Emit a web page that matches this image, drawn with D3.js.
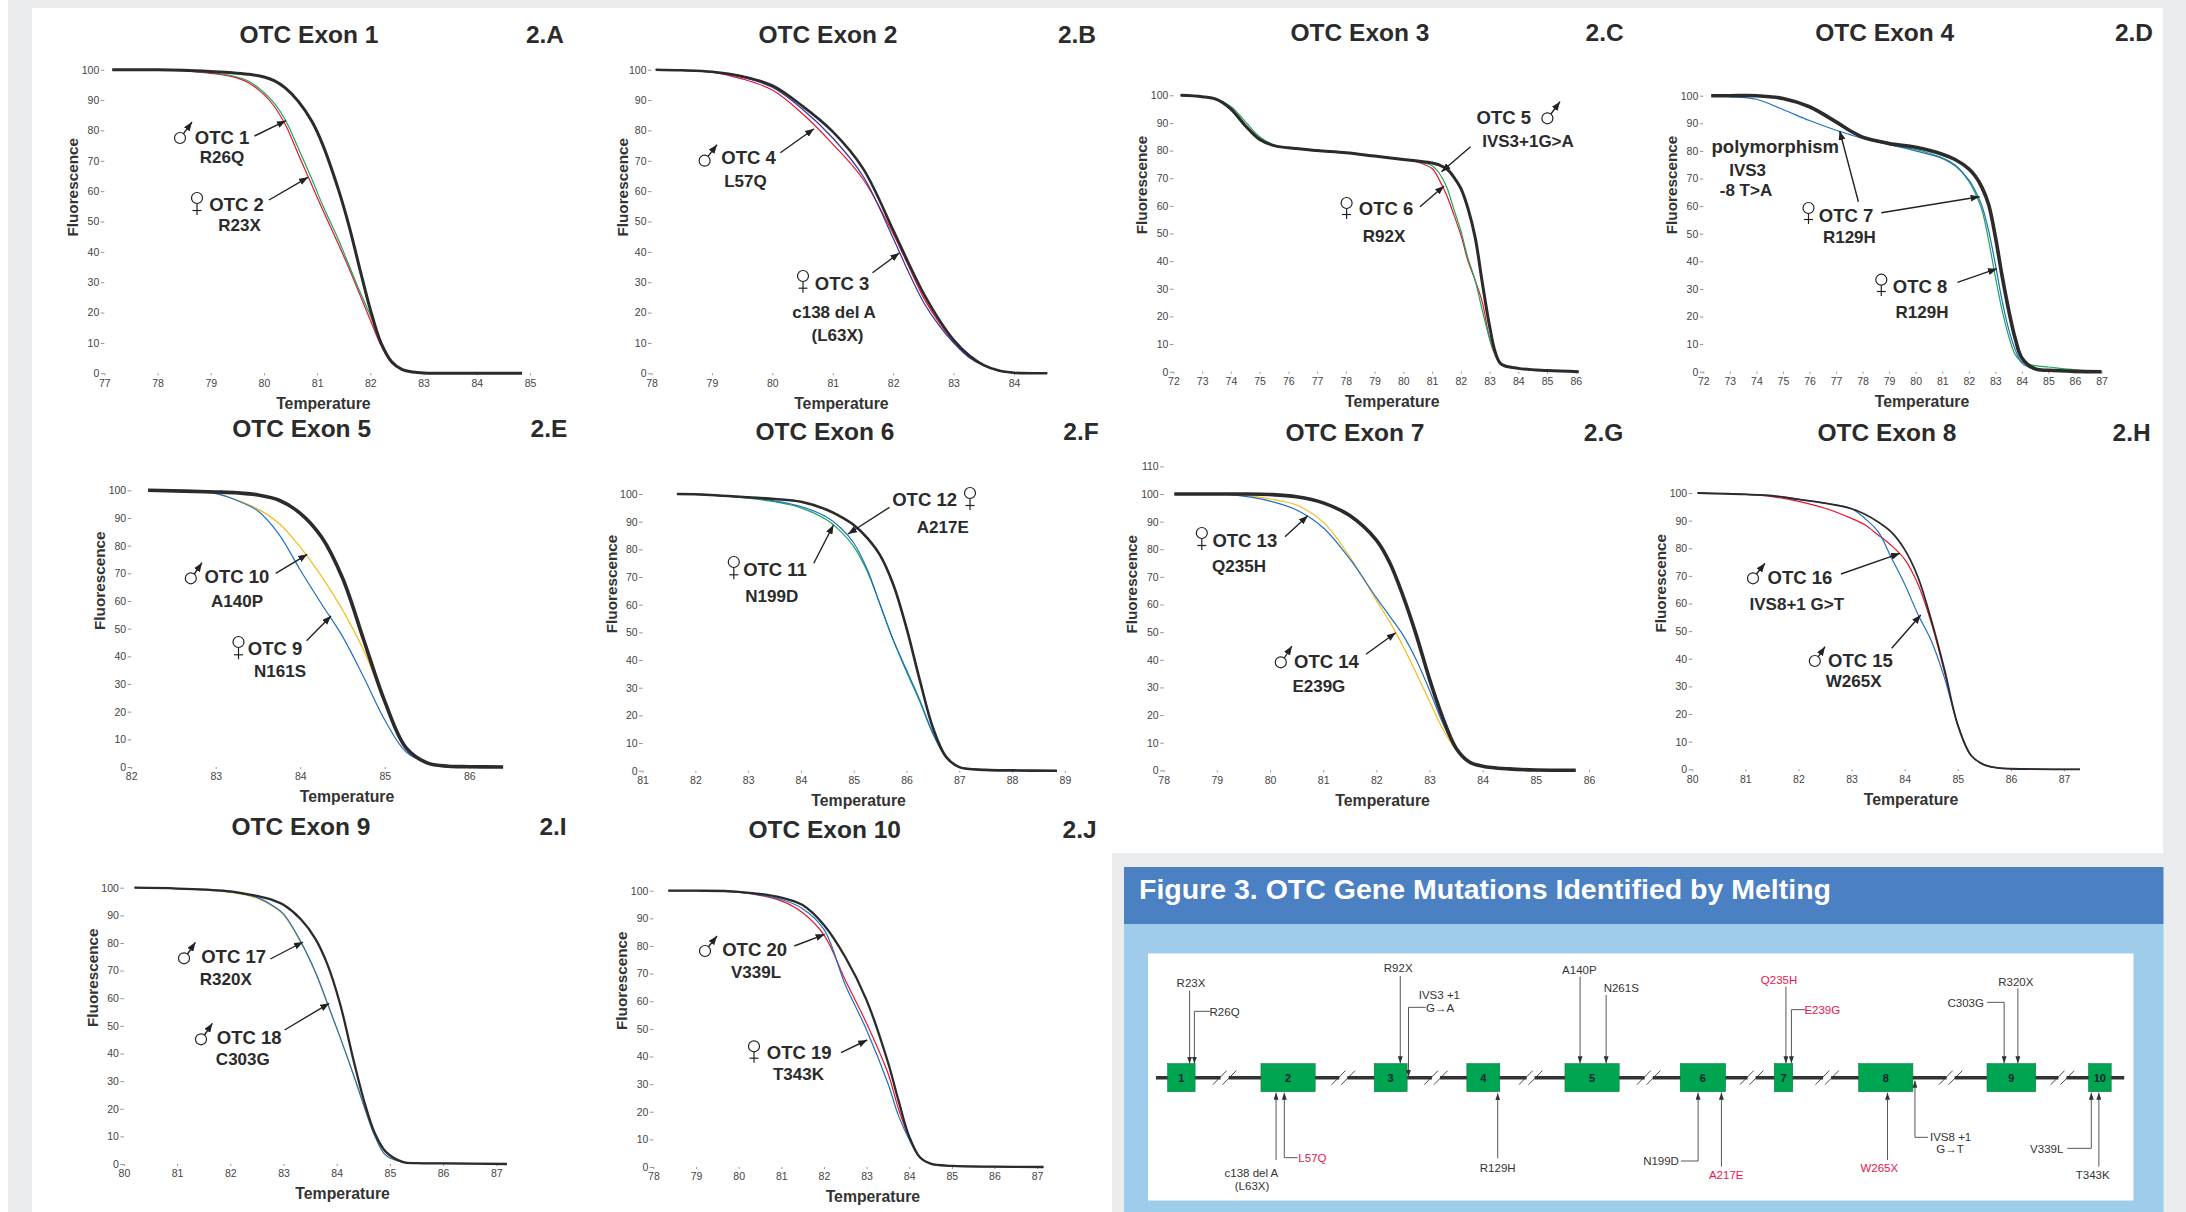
<!DOCTYPE html>
<html>
<head>
<meta charset="utf-8">
<script src="https://cdnjs.cloudflare.com/ajax/libs/d3/7.8.5/d3.min.js"></script>
<style>
  html, body { margin: 0; padding: 0; background: #fff; }
  svg { display: block; }
  text { font-family: "Liberation Sans", Arial, sans-serif; }
</style>
</head>
<body>
<svg id="chart" width="2186" height="1212"></svg>
<script>
/*
 * Melting curve values
 */
var tempA = [77.15, 78, 78.5, 79, 79.4, 79.7, 80, 80.2, 80.4, 80.65, 80.9, 81.1, 81.4, 81.6, 81.8, 82, 82.2, 82.4, 82.6, 82.8, 83, 84, 84.85];
var controlA = [100, 100, 99.8, 99.4, 99, 98.5, 97.6, 96.3, 94, 89.5, 83, 75.5, 60.5, 48.5, 34.5, 21, 10, 3.8, 1.2, 0.4, 0.1, 0, 0];
var greenA = [100, 100, 99.7, 99, 98, 96.3, 92.5, 88.8, 83.5, 74, 64, 55.5, 44, 35.5, 27, 19, 9.8, 3.6, 1.1, 0.4, 0.1, 0, 0];
var redA = [100, 100, 99.6, 98.8, 97.7, 95.8, 91.8, 87.8, 82, 72, 62, 54, 42.5, 34.5, 26, 17.5, 9.2, 3.4, 1.1, 0.4, 0.1, 0, 0];

var tempB = [78.07, 78.5, 79, 79.5, 80, 80.5, 81, 81.5, 82, 82.25, 82.5, 82.75, 83, 83.25, 83.5, 83.75, 84, 84.55];
var controlB = [100, 99.8, 99.3, 97.8, 94.8, 88, 79.6, 67.5, 47.2, 36.5, 26.4, 18, 11, 6, 2.7, 0.9, 0.2, 0];
var redB = [100, 99.8, 99.2, 97, 93.3, 85.5, 75.5, 64, 46, 35.5, 25, 17, 10.5, 5.5, 2.5, 0.8, 0.2, 0];
var navyB = [100, 99.8, 99.3, 97.5, 94.2, 87, 77.5, 65, 44.5, 33.5, 23.5, 16, 10, 5.3, 2.5, 0.8, 0.2, 0];

var tempC = [72.25, 73, 73.5, 74, 74.5, 75, 75.5, 76, 77, 78, 79, 80, 80.5, 81, 81.25, 81.5, 81.75, 82, 82.25, 82.5, 82.75, 83, 83.2, 83.4, 84, 85, 86.1];
var controlC = [100, 99.5, 98.5, 95, 89, 84, 81.8, 81, 80, 79.2, 78, 76.8, 76.2, 75.5, 74.8, 73.5, 70.5, 66.3, 59, 48.5, 32, 16.5, 7, 2.8, 1.2, 0.4, 0];
var greenC = [100, 99.5, 98.7, 96, 90.5, 85, 82, 81, 80, 79.2, 78, 76.8, 76, 74.5, 71.8, 67, 59, 51, 41, 33, 22, 12, 6, 2.8, 1.2, 0.4, 0];
var redC = [100, 99.5, 98.5, 95.5, 89.5, 84.5, 81.8, 81, 80, 79.3, 78.1, 76.8, 75.8, 73.5, 69.4, 64, 57, 49.5, 40, 33, 25, 12, 6, 2.8, 1.2, 0.4, 0];

var tempD = [72.3, 73, 74, 75, 76, 77, 77.5, 78, 79, 80, 81, 81.5, 82, 82.25, 82.5, 82.75, 83, 83.25, 83.5, 83.75, 84, 84.5, 85, 86, 87];
var controlD = [100, 100, 100, 99, 96, 90.5, 87.5, 85, 82.7, 81.3, 78.8, 76.8, 73.5, 70.8, 66.7, 60.5, 49, 35, 22.5, 12, 5, 1, 0.5, 0.1, 0];
var greenD = [100, 100, 100, 99, 96, 90.5, 87.5, 85, 82.3, 80.5, 77.5, 74.8, 69, 64.5, 58.5, 47.5, 34.5, 22.5, 13, 6.2, 3.6, 2.2, 1.7, 0.7, 0];
var blueD = [100, 99.7, 98.7, 95, 91, 87.5, 86, 84.5, 82.3, 80, 77.3, 74.5, 69.5, 65.5, 60, 51, 39, 26, 15.5, 8, 3.2, 0.8, 0.4, 0.1, 0];

var tempE = [82.2, 83, 83.25, 83.5, 83.75, 84, 84.25, 84.5, 84.75, 85, 85.25, 85.5, 85.75, 86, 86.4];
var controlE = [100, 99.4, 99.1, 98.3, 96.4, 91.7, 83.2, 68.3, 46, 23.7, 7, 1.5, 0.3, 0.1, 0];
var yellowE = [100, 99, 96.5, 93.2, 88, 79.5, 69, 56.8, 42.2, 23.7, 7, 1.5, 0.3, 0.1, 0];
var blueE = [100, 98.8, 96.3, 92.5, 84, 71.2, 59, 47.2, 32.5, 17, 5.5, 1.5, 0.3, 0.1, 0];

var tempF = [81.65, 82, 83, 83.5, 84, 84.5, 84.75, 85, 85.25, 85.5, 85.75, 86, 86.25, 86.5, 86.75, 87, 87.5, 88, 88.85];
var controlF = [100, 99.9, 98.8, 98.2, 97.2, 94.2, 91.8, 88.8, 84.2, 77.8, 67.2, 51.5, 32.8, 15.5, 5, 1.3, 0.3, 0.1, 0];
var greenF = [100, 99.9, 98.5, 97.2, 95, 90.5, 86.5, 81, 72.3, 60, 47, 35.8, 25, 13.3, 4.8, 1.3, 0.3, 0.1, 0];
var blueF = [100, 99.9, 98.7, 97.5, 95.5, 91.5, 87.8, 82.3, 73, 60, 47.2, 36.4, 25.6, 13.5, 4.8, 1.3, 0.3, 0.1, 0];

var tempG = [78.2, 79, 79.5, 80, 80.5, 81, 81.5, 82, 82.25, 82.5, 82.75, 83, 83.25, 83.5, 83.75, 84, 84.5, 85, 85.75];
var controlG = [100, 100, 100, 99.8, 99, 96.8, 92.2, 83.3, 75.2, 63.2, 49, 33, 19, 8, 3, 1.5, 0.5, 0.1, 0];
var yellowG = [100, 100, 99.6, 98.2, 96, 89.8, 77.3, 61.5, 53.8, 45, 35.2, 25, 15, 7.5, 3, 1.5, 0.5, 0.1, 0];
var blueG = [100, 100, 99.2, 97.4, 94.2, 87.8, 76.5, 62.5, 55.8, 49, 40, 29, 17, 7.8, 3, 1.5, 0.5, 0.1, 0];

var tempH = [80.1, 81, 81.5, 82, 82.5, 83, 83.25, 83.5, 83.75, 84, 84.25, 84.5, 84.75, 85, 85.25, 85.5, 85.75, 86, 87.3];
var controlH = [100, 99.5, 99, 97.7, 96.3, 94.3, 92.3, 89.5, 85.8, 79.5, 69.5, 54, 36, 16, 5, 1.6, 0.5, 0.2, 0];
var redH = [100, 99.5, 98.7, 97, 94.5, 90.8, 88.5, 84.8, 81, 76, 67, 53, 35, 16, 5, 1.6, 0.5, 0.2, 0];
var blueH = [100, 99.5, 99, 97.8, 96.3, 94.3, 90.8, 86, 76.5, 67, 56, 46.5, 33, 16, 5, 1.6, 0.5, 0.2, 0];

var tempI = [80.2, 81, 82, 82.5, 82.8, 83, 83.33, 83.6, 83.82, 84.06, 84.33, 84.53, 84.72, 84.92, 85.25, 85.5, 86, 87.2];
var controlI = [100, 99.7, 98.7, 97, 95.5, 93.8, 88.5, 81.5, 72.5, 58.2, 36.5, 21.8, 11, 4.5, 0.7, 0.3, 0.2, 0];
var yellowI = [100, 99.7, 98.3, 96.2, 93.2, 90.2, 80, 69.2, 58.2, 46, 31.5, 20, 10, 3.2, 0.6, 0.3, 0.2, 0];
var blueI = [100, 99.7, 98.5, 96.5, 93.5, 90.5, 80.3, 69.5, 58.5, 46.1, 31.5, 20, 10, 3.2, 0.6, 0.3, 0.2, 0];

var tempJ = [78.35, 79, 80, 81, 81.5, 82, 82.5, 83, 83.5, 83.75, 84, 84.25, 84.5, 85, 86, 87.15];
var controlJ = [100, 100, 99.6, 97.5, 94.8, 87.6, 76, 60.4, 38, 24, 11, 3.5, 1.2, 0.4, 0.1, 0];
var redJ = [100, 100, 99.5, 96.3, 92, 84, 67.7, 52, 34, 21, 10.5, 3.5, 1.2, 0.4, 0.1, 0];
var blueJ = [100, 100, 99.5, 96.8, 93.5, 86, 66, 49.6, 30.3, 18.5, 10, 3.5, 1.2, 0.4, 0.1, 0];

var RED = "#e8152f", GREEN = "#1da658", BLUE = "#1f6fc4", YELLOW = "#f6bb1c", NAVY = "#3232a5";

/*
 * Panels: box on the page, tick range, curves
 */
var panels = [
  { title: "OTC Exon 1", tag: "2.A", tx: 309, ty: 43.3, lx: 545, ly: 43,
    t: [77, 85], px: [104.3, 530], py: [373.3, 69.7], xl: [323.4, 409], yl: [77.7, 187.3], w: 3,
    temp: tempA, control: controlA, curves: [[redA, RED], [greenA, GREEN]] },
  { title: "OTC Exon 2", tag: "2.B", tx: 828, ty: 43, lx: 1077, ly: 43,
    t: [78, 84], px: [651.5, 1014], py: [373.3, 69.7], xl: [841.4, 409], yl: [627.9, 187.3], w: 2.6,
    temp: tempB, control: controlB, curves: [[redB, RED], [navyB, NAVY]] },
  { title: "OTC Exon 3", tag: "2.C", tx: 1360, ty: 41.3, lx: 1604.6, ly: 41.3,
    t: [72, 86], px: [1173.4, 1575.8], py: [371.7, 95.3], xl: [1392.3, 406.7], yl: [1147, 185], w: 3,
    temp: tempC, control: controlC, curves: [[redC, RED], [greenC, GREEN]] },
  { title: "OTC Exon 4", tag: "2.D", tx: 1884.7, ty: 41.3, lx: 2134, ly: 41.3,
    t: [72, 87], px: [1703.3, 2101.5], py: [371.7, 95.7], xl: [1922, 407], yl: [1677, 185], w: 3.6,
    temp: tempD, control: controlD, curves: [[greenD, GREEN], [blueD, BLUE]] },
  { title: "OTC Exon 5", tag: "2.E", tx: 301.6, ty: 437.3, lx: 549, ly: 437.3,
    t: [82, 86], px: [131.2, 469.3], py: [767, 490.3], xl: [347, 802.3], yl: [105, 580.7], w: 3.6,
    temp: tempE, control: controlE, curves: [[yellowE, YELLOW], [blueE, BLUE]] },
  { title: "OTC Exon 6", tag: "2.F", tx: 825, ty: 440, lx: 1081, ly: 440,
    t: [81, 89], px: [642.6, 1064.9], py: [770.7, 494], xl: [858.6, 805.7], yl: [617.3, 584], w: 2.6,
    temp: tempF, control: controlF, curves: [[greenF, GREEN], [blueF, BLUE]] },
  { title: "OTC Exon 7", tag: "2.G", tx: 1355, ty: 440.7, lx: 1603.5, ly: 440.7, top: 110,
    t: [78, 86], px: [1163.7, 1589], py: [770.3, 494], xl: [1382.6, 806], yl: [1137.4, 584.3], w: 3.6,
    temp: tempG, control: controlG, curves: [[yellowG, YELLOW], [blueG, BLUE]] },
  { title: "OTC Exon 8", tag: "2.H", tx: 1887, ty: 440.7, lx: 2131.6, ly: 440.7,
    t: [80, 87], px: [1692.2, 2064.1], py: [769.3, 493], xl: [1911, 805], yl: [1665.9, 583.3], w: 1.8,
    temp: tempH, control: controlH, curves: [[redH, RED], [blueH, BLUE]] },
  { title: "OTC Exon 9", tag: "2.I", tx: 301, ty: 835, lx: 553, ly: 835,
    t: [80, 87], px: [123.9, 496.3], py: [1164, 887.7], xl: [342.6, 1199.3], yl: [97.7, 977.7], w: 2.3,
    temp: tempI, control: controlI, curves: [[yellowI, YELLOW], [blueI, BLUE]] },
  { title: "OTC Exon 10", tag: "2.J", tx: 824.7, ty: 838.3, lx: 1079.6, ly: 838.3,
    t: [78, 87], px: [653.4, 1037.1], py: [1167, 890.7], xl: [872.9, 1202.3], yl: [627.2, 980.7], w: 2.3,
    temp: tempJ, control: controlJ, curves: [[redJ, RED], [blueJ, BLUE]] }
];

// [text, center x, baseline y]
var otcLabels = [
  ["OTC 1", 222, 144], ["R26Q", 222, 163.3], ["OTC 2", 236.5, 211], ["R23X", 239.5, 230.7],
  ["OTC 4", 748.6, 164], ["L57Q", 745.4, 187.3], ["OTC 3", 842, 290], ["c138 del A", 834, 318.3], ["(L63X)", 837.5, 341],
  ["OTC 5", 1503.8, 124], ["IVS3+1G>A", 1528, 147], ["OTC 6", 1386, 215], ["R92X", 1384, 242],
  ["polymorphism", 1775.3, 153.3], ["IVS3", 1747.6, 176], ["-8 T>A", 1746, 195.7],
  ["OTC 7", 1846, 221.7], ["R129H", 1849.4, 243.3], ["OTC 8", 1920, 293.3], ["R129H", 1922, 318.3],
  ["OTC 10", 237, 583.3], ["A140P", 237, 606.7], ["OTC 9", 275, 655.3], ["N161S", 280, 677],
  ["OTC 12", 924.6, 506], ["A217E", 942.8, 533.3], ["OTC 11", 775, 575.7], ["N199D", 771.7, 601.7],
  ["OTC 13", 1244.8, 546.7], ["Q235H", 1239, 571.7], ["OTC 14", 1326.5, 668.3], ["E239G", 1318.9, 691.7],
  ["OTC 16", 1800, 583.7], ["IVS8+1 G>T", 1796.8, 610], ["OTC 15", 1860.5, 666.7], ["W265X", 1853.6, 686.7],
  ["OTC 17", 233.6, 963.3], ["R320X", 225.8, 985], ["OTC 18", 249.2, 1044.3], ["C303G", 242.8, 1065],
  ["OTC 20", 754.6, 956], ["V339L", 756, 978.3], ["OTC 19", 799.2, 1059], ["T343K", 798.5, 1080]
];

// [x1, y1, x2, y2], the head sits at x2, y2
var otcArrows = [
  [254.5, 136, 286, 120.7], [269, 200, 308, 177.3],
  [780.4, 152.7, 814, 128.7], [872.5, 272.7, 899.3, 253],
  [1470.5, 146.7, 1441.5, 171.7], [1420, 206.7, 1444, 186],
  [1858.4, 201.7, 1839.7, 131], [1881.3, 212.7, 1979.6, 196.7], [1957.5, 282.3, 1997, 268.7],
  [275.7, 573.3, 307.3, 554.3], [306.6, 640.7, 331, 616],
  [889.5, 507.3, 848, 534], [813.8, 563.3, 833.4, 525],
  [1285, 536.7, 1307.8, 515.7], [1366, 654.3, 1395.7, 632.7],
  [1841, 574, 1900, 553.3], [1891.7, 648.3, 1920.8, 615],
  [270.4, 959, 303, 942], [284.6, 1030, 329.2, 1003.3],
  [794.3, 946, 824.7, 934.3], [841, 1052.7, 867.2, 1040]
];

// [circle x, circle y, arrow tip x, arrow tip y]
var maleSigns = [
  [180, 138, 192, 122], [704.6, 160.7, 717, 144.7], [1547.4, 118.3, 1560, 101.7],
  [190.8, 578.3, 202, 562.7], [1280.8, 662.3, 1291.9, 646], [1753, 578.3, 1765, 563.3],
  [1814.8, 661, 1825, 646.7], [184, 958.3, 195.4, 942.3], [201, 1039.3, 212.4, 1023.3], [705, 951, 717, 936]
];

// [circle x, circle y, stem bottom y]
var femaleSigns = [
  [197, 200, 215], [803, 278, 292.7], [1346.6, 205, 219], [1808.5, 210, 224], [1881.3, 281.7, 296],
  [238.5, 644, 659.3], [970, 495, 510], [733.8, 564, 579.3], [1201.8, 535, 550], [754, 1048.3, 1062.7]
];

/*
 * Figure 3, gene map, in the units of the schematic
 */
var exonNames = ["1", "2", "3", "4", "5", "6", "7", "8", "9", "10"];
var exonStarts = [84, 220, 385, 520, 663, 831, 968, 1091, 1278, 1426];
var exonEnds = [124, 299, 433, 568, 742, 897, 995, 1170, 1349, 1459];
var breakMarks = [167, 340, 475, 613, 785, 935, 1045, 1225, 1388];

// [text, x, y, color]
var geneLabels = [
  ["R23X", 118, 410, 0], ["R26Q", 167, 498, 0], ["R92X", 420, 365, 0], ["IVS3 +1", 480, 447, 0], ["G\u2192A", 481, 485, 0],
  ["A140P", 684, 372, 0], ["N261S", 745, 426, 0], ["Q235H", 975, 402, 1], ["E239G", 1038, 492, 1], ["C303G", 1247, 470, 0],
  ["R320X", 1320, 407, 0], ["c138 del A", 206, 980, 0], ["(L63X)", 207, 1020, 0], ["L57Q", 295, 935, 1], ["R129H", 565, 967, 0],
  ["N199D", 803, 945, 0], ["A217E", 898, 988, 1], ["W265X", 1121, 967, 1], ["IVS8 +1", 1225, 872, 0], ["G\u2192T", 1224, 910, 0],
  ["V339L", 1365, 908, 0], ["T343K", 1432, 988, 0]
];

// polyline through [x, y] pairs ending at the arrow tip
var geneArrows = [
  [[116, 422], [116, 641]], [[146, 484], [123, 484], [123, 641]], [[423, 378], [423, 640]],
  [[460, 472], [435, 472], [435, 680]], [[685, 380], [685, 640]], [[723, 435], [723, 640]],
  [[985, 410], [985, 640]], [[1013, 479], [993, 479], [993, 640]], [[1278, 457], [1303, 457], [1303, 640]],
  [[1323, 415], [1323, 640]], [[242, 930], [242, 728]], [[273, 923], [254, 923], [254, 728]],
  [[565, 925], [565, 730]], [[832, 933], [857, 933], [857, 728]], [[891, 950], [891, 728]],
  [[1133, 930], [1133, 728]], [[1192, 862], [1173, 862], [1173, 692]], [[1395, 895], [1430, 895], [1430, 728]],
  [[1441, 950], [1441, 728]]
];

var svg = d3.select("#chart");
var INK = "#2b2b2b";

var defs = svg.append("defs");
var addHead = function(id, w, h, color) {
  defs.append("marker")
    .attr("id", id)
    .attr("markerUnits", "userSpaceOnUse")
    .attr("viewBox", "0 0 " + w + " " + h)
    .attr("markerWidth", w)
    .attr("markerHeight", h)
    .attr("refX", w)
    .attr("refY", h / 2)
    .attr("orient", "auto")
    .append("path")
    .attr("d", "M0,0L" + w + "," + (h / 2) + "L0," + h + "Z")
    .attr("fill", color);
};
addHead("head", 9, 7, "#222");
addHead("genehead", 7, 5, "#333");

/*
 * Page background
 */
var box = function(x, y, w, h, fill) {
  return svg.append("rect").attr("x", x).attr("y", y).attr("width", w).attr("height", h).attr("fill", fill);
};
box(8, 0, 2178, 1212, "#ebecee");
box(32, 8, 2131, 1204, "#ffffff");
box(1112, 853, 1074, 359, "#ebecee");

/*
 * Melting panels
 */
panels.forEach(function(p) {
  var x = d3.scaleLinear().domain(p.t).range(p.px);
  var y = d3.scaleLinear().domain([0, 100]).range(p.py);
  var g = svg.append("g");

  var xAxis = d3.axisBottom(x)
    .tickValues(d3.range(p.t[0], p.t[1] + 1))
    .tickFormat(d3.format("d"))
    .tickSize(2)
    .tickPadding(4);
  var yAxis = d3.axisLeft(y)
    .tickValues(d3.range(0, (p.top || 100) + 1, 10))
    .tickFormat(d3.format("d"))
    .tickSize(3.5)
    .tickPadding(1.5);

  [g.append("g").attr("transform", "translate(0," + p.py[0] + ")").call(xAxis),
   g.append("g").attr("transform", "translate(" + p.px[0] + ",0)").call(yAxis)].forEach(function(a) {
    a.select(".domain").remove();
    a.selectAll("line").attr("stroke", "#666").attr("stroke-width", 0.7);
    a.selectAll("text").attr("fill", "#444").style("font-size", "10.5px");
  });

  var line = function(values) {
    return d3.line()
      .x(function(d, i) { return x(p.temp[i]); })
      .y(function(d) { return y(d); })
      .curve(d3.curveCatmullRom.alpha(0.5))(values);
  };

  p.curves.forEach(function(c) {
    g.append("path")
      .attr("d", line(c[0]))
      .attr("fill", "none")
      .attr("stroke", c[1])
      .attr("stroke-width", 1.2);
  });
  g.append("path")
    .attr("d", line(p.control))
    .attr("fill", "none")
    .attr("stroke", INK)
    .attr("stroke-width", p.w);

  g.append("text").text(p.title)
    .attr("x", p.tx).attr("y", p.ty)
    .attr("text-anchor", "middle")
    .attr("fill", INK)
    .style("font-size", "24.5px").style("font-weight", "bold");
  g.append("text").text(p.tag)
    .attr("x", p.lx).attr("y", p.ly)
    .attr("text-anchor", "middle")
    .attr("fill", INK)
    .style("font-size", "24.5px").style("font-weight", "bold");
  g.append("text").text("Temperature")
    .attr("x", p.xl[0]).attr("y", p.xl[1])
    .attr("text-anchor", "middle")
    .attr("fill", "#333")
    .style("font-size", "15.8px").style("font-weight", "bold");
  g.append("text").text("Fluorescence")
    .attr("transform", "translate(" + p.yl[0] + "," + p.yl[1] + ") rotate(-90)")
    .attr("text-anchor", "middle")
    .attr("fill", "#333")
    .style("font-size", "15.3px").style("font-weight", "bold");
});

/*
 * Callouts on the panels
 */
svg.append("g").selectAll("text")
  .data(otcLabels)
  .enter().append("text")
  .text(function(d) { return d[0]; })
  .attr("x", function(d) { return d[1]; })
  .attr("y", function(d) { return d[2]; })
  .attr("text-anchor", "middle")
  .attr("fill", INK)
  .style("font-weight", "bold")
  .style("font-size", function(d) { return d[0].indexOf("OTC") === 0 || d[0] === "polymorphism" ? "18.5px" : "17px"; });

svg.append("g").selectAll("line")
  .data(otcArrows)
  .enter().append("line")
  .attr("x1", function(d) { return d[0]; })
  .attr("y1", function(d) { return d[1]; })
  .attr("x2", function(d) { return d[2]; })
  .attr("y2", function(d) { return d[3]; })
  .attr("stroke", "#222")
  .attr("stroke-width", 1.4)
  .attr("marker-end", "url(#head)");

var male = svg.append("g").selectAll("g").data(maleSigns).enter().append("g");
male.append("circle")
  .attr("cx", function(d) { return d[0]; })
  .attr("cy", function(d) { return d[1]; })
  .attr("r", 5.5)
  .attr("fill", "none")
  .attr("stroke", "#222")
  .attr("stroke-width", 1.2);
male.append("line")
  .attr("x1", function(d) { return d[0] + 3.5; })
  .attr("y1", function(d) { return d[1] - 4.3; })
  .attr("x2", function(d) { return d[2]; })
  .attr("y2", function(d) { return d[3]; })
  .attr("stroke", "#222")
  .attr("stroke-width", 1.4)
  .attr("marker-end", "url(#head)");

var female = svg.append("g").selectAll("g").data(femaleSigns).enter().append("g");
female.append("circle")
  .attr("cx", function(d) { return d[0]; })
  .attr("cy", function(d) { return d[1] - 2; })
  .attr("r", 5.5)
  .attr("fill", "none")
  .attr("stroke", "#222")
  .attr("stroke-width", 1.2);
female.append("line")
  .attr("x1", function(d) { return d[0]; })
  .attr("y1", function(d) { return d[1] + 3.5; })
  .attr("x2", function(d) { return d[0]; })
  .attr("y2", function(d) { return d[2]; })
  .attr("stroke", "#222")
  .attr("stroke-width", 1.2);
female.append("line")
  .attr("x1", function(d) { return d[0] - 4.5; })
  .attr("y1", function(d) { return d[2] - 4.5; })
  .attr("x2", function(d) { return d[0] + 4.5; })
  .attr("y2", function(d) { return d[2] - 4.5; })
  .attr("stroke", "#222")
  .attr("stroke-width", 1.2);

/*
 * Figure 3
 */
box(1124, 867, 1039.5, 57, "#4b80c3");
box(1124, 924, 1039.5, 288, "#a0ccec");
box(1148, 953.5, 985.5, 247, "#ffffff");

svg.append("text").text("Figure 3. OTC Gene Mutations Identified by Melting")
  .attr("x", 1139).attr("y", 898.5)
  .attr("fill", "#ffffff")
  .attr("textLength", 692)
  .attr("lengthAdjust", "spacingAndGlyphs")
  .style("font-size", "28px").style("font-weight", "bold");

var gx = d3.scaleLinear().domain([0, 1568]).range([1110, 2186]);
var gy = d3.scaleLinear().domain([0, 1086]).range([850, 1212]);
var gene = svg.append("g");

gene.append("line")
  .attr("x1", gx(67)).attr("x2", gx(1478))
  .attr("y1", gy(683)).attr("y2", gy(683))
  .attr("stroke", "#333")
  .attr("stroke-width", 3.5);

var marks = gene.selectAll(".mark").data(breakMarks).enter().append("g").attr("class", "mark");
marks.append("rect")
  .attr("x", function(d) { return gx(d) - 4; })
  .attr("y", gy(672))
  .attr("width", 8)
  .attr("height", gy(694) - gy(672))
  .attr("fill", "#fff");
[-7, 7].forEach(function(o) {
  marks.append("line")
    .attr("x1", function(d) { return gx(d + o - 10); })
    .attr("x2", function(d) { return gx(d + o + 10); })
    .attr("y1", gy(704))
    .attr("y2", gy(662))
    .attr("stroke", "#333")
    .attr("stroke-width", 0.9);
});

var exons = gene.selectAll(".exon").data(exonNames).enter().append("g").attr("class", "exon");
exons.append("rect")
  .attr("x", function(d, i) { return gx(exonStarts[i]); })
  .attr("y", gy(641))
  .attr("width", function(d, i) { return gx(exonEnds[i]) - gx(exonStarts[i]); })
  .attr("height", gy(725) - gy(641))
  .attr("fill", "#00a551")
  .attr("stroke", "#0b7a40")
  .attr("stroke-width", 0.6);
exons.append("text")
  .text(function(d) { return d; })
  .attr("x", function(d, i) { return (gx(exonStarts[i]) + gx(exonEnds[i])) / 2; })
  .attr("y", gy(683) + 4)
  .attr("text-anchor", "middle")
  .attr("fill", "#123")
  .style("font-size", "11px").style("font-weight", "bold");

gene.selectAll(".garrow").data(geneArrows).enter().append("path")
  .attr("class", "garrow")
  .attr("d", d3.line().x(function(d) { return gx(d[0]); }).y(function(d) { return gy(d[1]); }))
  .attr("fill", "none")
  .attr("stroke", "#444")
  .attr("stroke-width", 0.9)
  .attr("marker-end", "url(#genehead)");

gene.selectAll(".glabel").data(geneLabels).enter().append("text")
  .attr("class", "glabel")
  .text(function(d) { return d[0]; })
  .attr("x", function(d) { return gx(d[1]); })
  .attr("y", function(d) { return gy(d[2]); })
  .attr("text-anchor", "middle")
  .attr("fill", function(d) { return d[3] ? "#e8154a" : "#333"; })
  .style("font-size", "11.5px");
</script>
</body>
</html>
